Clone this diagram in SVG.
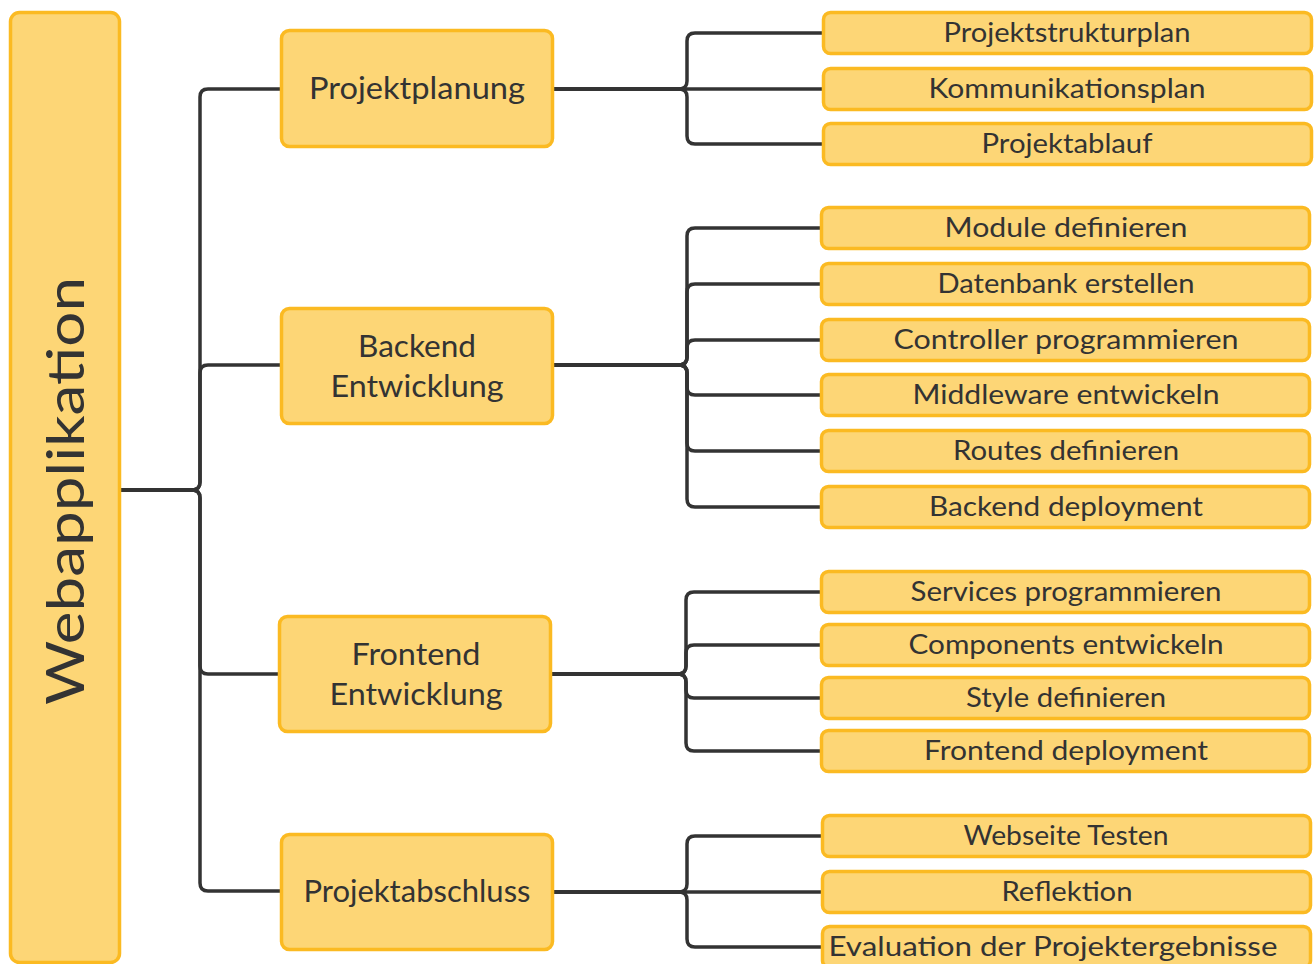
<svg xmlns="http://www.w3.org/2000/svg" width="1314" height="964" viewBox="0 0 1314 964">
  <style>
    .box { fill: #FDD676; stroke: #FBBA22; stroke-width: 3.5; }
    .wire { fill: none; stroke: #333333; stroke-width: 3.5; stroke-linecap: butt; }
    text { font-family: Lato, "Open Sans", "Liberation Sans", sans-serif; fill: #333333; text-anchor: middle; }
    .t1 { font-size: 52px; }
    .t2 { font-size: 30px; }
    .t3 { font-size: 27px; }
  </style>

  <!-- connectors -->
  <g id="connectors">
    <!-- root to phases -->
    <path class="wire" d="M120,490 H192 Q200,490 200,482 V97 Q200,89 208,89 H282"/>
    <path class="wire" d="M120,490 H192 Q200,490 200,482 V373 Q200,365 208,365 H282"/>
    <path class="wire" d="M120,490 H192 Q200,490 200,498 V666 Q200,674 208,674 H280"/>
    <path class="wire" d="M120,490 H192 Q200,490 200,498 V883 Q200,891 208,891 H282"/>
    <!-- Projektplanung -->
    <path class="wire" d="M553,89 H679 Q687,89 687,81 V41 Q687,33 695,33 H823"/>
    <path class="wire" d="M553,89 H823"/>
    <path class="wire" d="M553,89 H679 Q687,89 687,97 V136 Q687,144 695,144 H823"/>
    <!-- Backend Entwicklung -->
    <path class="wire" d="M553,365 H679 Q687,365 687,357 V236 Q687,228 695,228 H822"/>
    <path class="wire" d="M553,365 H679 Q687,365 687,357 V292 Q687,284 695,284 H822"/>
    <path class="wire" d="M553,365 H679 Q687,365 687,357 V348 Q687,340 695,340 H822"/>
    <path class="wire" d="M553,365 H679 Q687,365 687,373 V387 Q687,395 695,395 H822"/>
    <path class="wire" d="M553,365 H679 Q687,365 687,373 V443 Q687,451 695,451 H822"/>
    <path class="wire" d="M553,365 H679 Q687,365 687,373 V499 Q687,507 695,507 H822"/>
    <!-- Frontend Entwicklung -->
    <path class="wire" d="M551,674 H678 Q686,674 686,666 V600 Q686,592 694,592 H822"/>
    <path class="wire" d="M551,674 H678 Q686,674 686,666 V653 Q686,645 694,645 H822"/>
    <path class="wire" d="M551,674 H678 Q686,674 686,682 V690 Q686,698 694,698 H822"/>
    <path class="wire" d="M551,674 H678 Q686,674 686,682 V743 Q686,751 694,751 H822"/>
    <!-- Projektabschluss -->
    <path class="wire" d="M553,892 H679 Q687,892 687,884 V844 Q687,836 695,836 H823"/>
    <path class="wire" d="M553,892 H823"/>
    <path class="wire" d="M553,892 H679 Q687,892 687,900 V939 Q687,947 695,947 H823"/>
  </g>

  <!-- root -->
  <g id="root">
    <rect class="box" x="10.5" y="12.5" width="109" height="950" rx="9"/>
    <text class="t1" transform="translate(84,491) rotate(-90)" x="0" y="0" textLength="428" lengthAdjust="spacingAndGlyphs">Webapplikation</text>
  </g>

  <!-- phases -->
  <g id="projektplanung">
    <rect class="box" x="281.5" y="30.5" width="271" height="116" rx="8"/>
    <text class="t2" x="417" y="99" textLength="216" lengthAdjust="spacingAndGlyphs">Projektplanung</text>
  </g>
  <g id="backend">
    <rect class="box" x="281.5" y="308.5" width="271" height="115" rx="8"/>
    <text class="t2" x="417" y="357" textLength="118" lengthAdjust="spacingAndGlyphs">Backend</text>
    <text class="t2" x="417" y="397" textLength="173" lengthAdjust="spacingAndGlyphs">Entwicklung</text>
  </g>
  <g id="frontend">
    <rect class="box" x="279.5" y="616.5" width="271" height="115" rx="8"/>
    <text class="t2" x="416" y="665" textLength="129" lengthAdjust="spacingAndGlyphs">Frontend</text>
    <text class="t2" x="416" y="705" textLength="173" lengthAdjust="spacingAndGlyphs">Entwicklung</text>
  </g>
  <g id="projektabschluss">
    <rect class="box" x="281.5" y="834.5" width="271" height="115" rx="8"/>
    <text class="t2" x="417" y="902" textLength="227" lengthAdjust="spacingAndGlyphs">Projektabschluss</text>
  </g>

  <!-- tasks: Projektplanung -->
  <g id="projektstrukturplan">
    <rect class="box" x="823.5" y="12.5" width="488" height="41" rx="7"/>
    <text class="t3" x="1067" y="42" textLength="247" lengthAdjust="spacingAndGlyphs">Projektstrukturplan</text>
  </g>
  <g id="kommunikationsplan">
    <rect class="box" x="823.5" y="68.5" width="488" height="41" rx="7"/>
    <text class="t3" x="1067" y="98" textLength="277" lengthAdjust="spacingAndGlyphs">Kommunikationsplan</text>
  </g>
  <g id="projektablauf">
    <rect class="box" x="823.5" y="123.5" width="488" height="41" rx="7"/>
    <text class="t3" x="1067" y="153" textLength="171" lengthAdjust="spacingAndGlyphs">Projektablauf</text>
  </g>

  <!-- tasks: Backend Entwicklung -->
  <g id="module-definieren">
    <rect class="box" x="821.5" y="207.5" width="488" height="41" rx="7"/>
    <text class="t3" x="1066" y="237" textLength="243" lengthAdjust="spacingAndGlyphs">Module definieren</text>
  </g>
  <g id="datenbank-erstellen">
    <rect class="box" x="821.5" y="263.5" width="488" height="41" rx="7"/>
    <text class="t3" x="1066" y="293" textLength="257" lengthAdjust="spacingAndGlyphs">Datenbank erstellen</text>
  </g>
  <g id="controller-programmieren">
    <rect class="box" x="821.5" y="319.5" width="488" height="41" rx="7"/>
    <text class="t3" x="1066" y="349" textLength="345" lengthAdjust="spacingAndGlyphs">Controller programmieren</text>
  </g>
  <g id="middleware-entwickeln">
    <rect class="box" x="821.5" y="374.5" width="488" height="41" rx="7"/>
    <text class="t3" x="1066" y="404" textLength="307" lengthAdjust="spacingAndGlyphs">Middleware entwickeln</text>
  </g>
  <g id="routes-definieren">
    <rect class="box" x="821.5" y="430.5" width="488" height="41" rx="7"/>
    <text class="t3" x="1066" y="460" textLength="226" lengthAdjust="spacingAndGlyphs">Routes definieren</text>
  </g>
  <g id="backend-deployment">
    <rect class="box" x="821.5" y="486.5" width="488" height="41" rx="7"/>
    <text class="t3" x="1066" y="516" textLength="274" lengthAdjust="spacingAndGlyphs">Backend deployment</text>
  </g>

  <!-- tasks: Frontend Entwicklung -->
  <g id="services-programmieren">
    <rect class="box" x="821.5" y="571.5" width="488" height="41" rx="7"/>
    <text class="t3" x="1066" y="601" textLength="311" lengthAdjust="spacingAndGlyphs">Services programmieren</text>
  </g>
  <g id="components-entwickeln">
    <rect class="box" x="821.5" y="624.5" width="488" height="41" rx="7"/>
    <text class="t3" x="1066" y="654" textLength="315" lengthAdjust="spacingAndGlyphs">Components entwickeln</text>
  </g>
  <g id="style-definieren">
    <rect class="box" x="821.5" y="677.5" width="488" height="41" rx="7"/>
    <text class="t3" x="1066" y="707" textLength="200" lengthAdjust="spacingAndGlyphs">Style definieren</text>
  </g>
  <g id="frontend-deployment">
    <rect class="box" x="821.5" y="730.5" width="488" height="41" rx="7"/>
    <text class="t3" x="1066" y="760" textLength="284" lengthAdjust="spacingAndGlyphs">Frontend deployment</text>
  </g>

  <!-- tasks: Projektabschluss -->
  <g id="webseite-testen">
    <rect class="box" x="822.5" y="815.5" width="488" height="41" rx="7"/>
    <text class="t3" x="1066" y="845" textLength="205" lengthAdjust="spacingAndGlyphs">Webseite Testen</text>
  </g>
  <g id="reflektion">
    <rect class="box" x="822.5" y="871.5" width="488" height="41" rx="7"/>
    <text class="t3" x="1067" y="901" textLength="131" lengthAdjust="spacingAndGlyphs">Reflektion</text>
  </g>
  <g id="evaluation">
    <rect class="box" x="822.5" y="926.5" width="488" height="41" rx="7"/>
    <text class="t3" x="1053" y="956" textLength="449" lengthAdjust="spacingAndGlyphs">Evaluation der Projektergebnisse</text>
  </g>
</svg>
